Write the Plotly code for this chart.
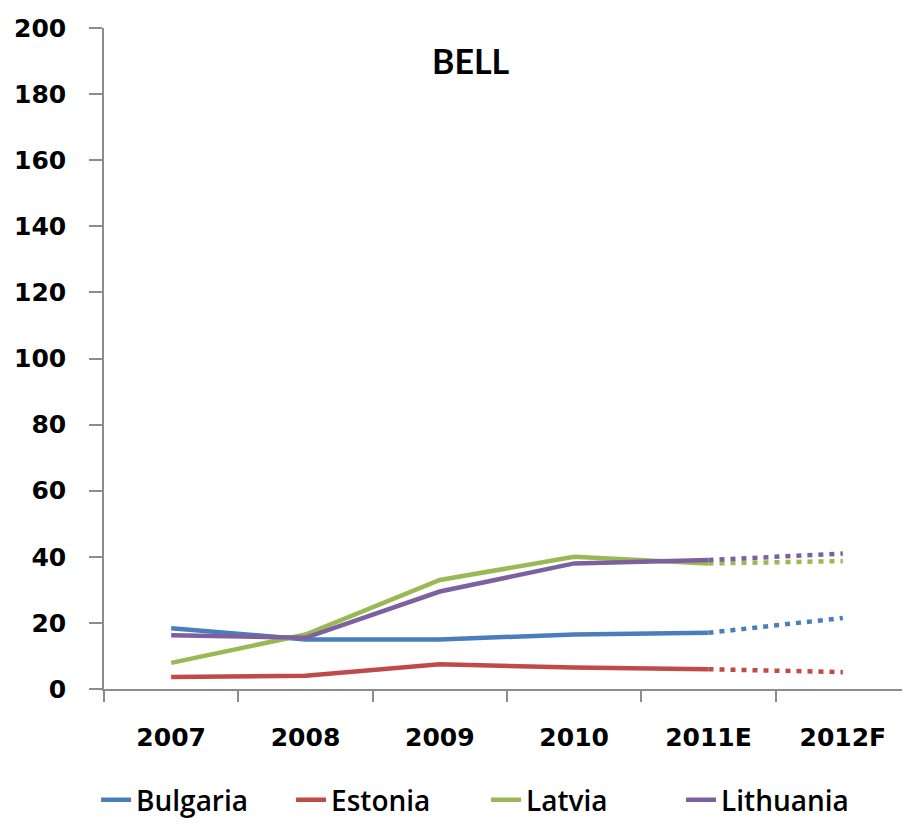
import plotly.graph_objects as go

years = ["2007", "2008", "2009", "2010", "2011E", "2012F"]
countries = ["Bulgaria", "Estonia", "Latvia", "Lithuania"]
bulgaria = [18.4, 15, 15, 16.5, 17, 21.5]
estonia = [3.6, 4, 7.5, 6.5, 6, 5.1]
latvia = [7.9, 16.5, 33, 40, 38, 38.7]
lithuania = [16.3, 15.5, 29.5, 38, 39, 41]
colors = ["#4A7EBB", "#BE4B48", "#98B954", "#7D60A0"]
series = [bulgaria, estonia, latvia, lithuania]
y_ticks = list(range(0, 201, 20))

TICKFONT = "'DejaVu Sans', sans-serif"
LEGFONT = "'Open Sans', sans-serif"
TITLEFONT = "Lato, sans-serif"

fig = go.Figure()
for name, vals, col in zip(countries, series, colors):
    fig.add_trace(go.Scatter(x=years[:5], y=vals[:5], mode="lines", name=name,
                             line=dict(color=col, width=4.5), legendgroup=name))
for name, vals, col in zip(countries, series, colors):
    fig.add_trace(go.Scatter(x=years[4:], y=vals[4:], mode="lines", name=name,
                             line=dict(color=col, width=4.5, dash="5px,6px"),
                             legendgroup=name, showlegend=False))

# the page body has an 8px default margin, so the figure is 8px smaller each way
fig.update_layout(
    width=902, height=812,
    paper_bgcolor="white", plot_bgcolor="white",
    margin=dict(l=96, r=0, t=20, b=131, autoexpand=False),
    font=dict(family=TICKFONT, size=25, color="black"),
    showlegend=True,
    legend=dict(orientation="h", xref="container", x=0.53, xanchor="center",
                y=-0.168, yanchor="middle", borderwidth=0,
                font=dict(size=28, family=LEGFONT, weight=600, color="black"),
                itemwidth=30, entrywidth=150, tracegroupgap=0),
    annotations=[dict(text="<b>BELL</b>", x=0.455, y=0.985, xref="paper", yref="paper",
                      showarrow=False, font=dict(size=34, family=TITLEFONT))],
)
fig.update_xaxes(type="category", categoryorder="array", categoryarray=years,
                 range=[-0.5, 5.5], showline=True, linecolor="#8c8c8c", linewidth=1.5,
                 ticks="outside", tickson="boundaries", ticklen=11, tickcolor="#8c8c8c",
                 tickwidth=1.5, showgrid=False, zeroline=False, automargin=False,
                 tickfont=dict(size=25, family=TICKFONT, weight="bold"), ticklabelstandoff=25)
fig.update_yaxes(range=[0, 200], tickvals=y_ticks, showline=True, linecolor="#8c8c8c",
                 linewidth=1.5, ticks="outside", ticklen=13, tickcolor="#8c8c8c",
                 tickwidth=1.5, showgrid=False, zeroline=False, automargin=False,
                 tickfont=dict(size=25, family=TICKFONT, weight="bold"), ticklabelstandoff=18)

fig.write_html("out.html")
